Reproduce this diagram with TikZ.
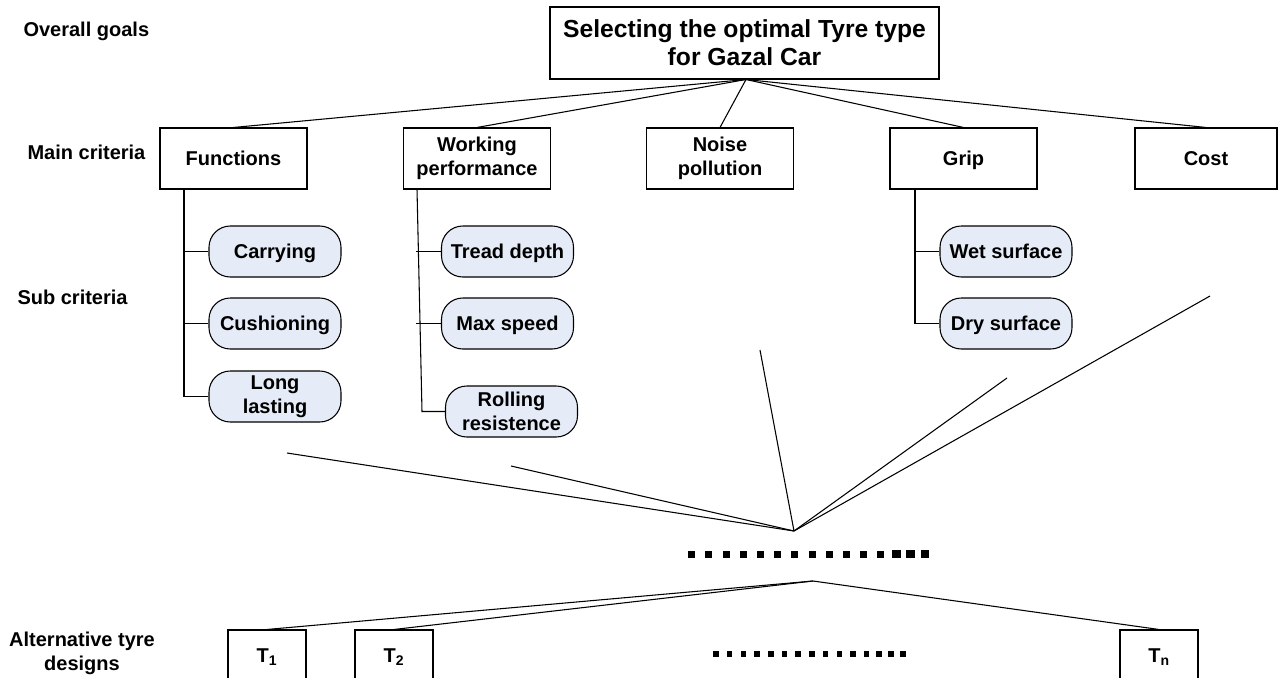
\documentclass[tikz,border=0pt]{standalone}
\usepackage{fontspec}
\setmainfont{Liberation Sans}
\definecolor{pillfill}{HTML}{E6ECF7}
\begin{document}
\begin{tikzpicture}[x=0.75pt,y=-0.75pt,line width=0.8pt,
  txt/.style={font=\bfseries\fontsize{15}{18}\selectfont},
  nodepth/.style={text depth=0pt},
  lbl/.style={txt,inner sep=0pt,anchor=west},
  goalbox/.style={draw,minimum width=291.75pt,minimum height=54pt,align=center,inner sep=0pt,
     font=\bfseries\fontsize{18.5}{21}\selectfont},
  mainbox/.style={draw,txt,minimum width=110.25pt,minimum height=45.75pt,align=center,inner sep=0pt},
  pill/.style={draw,fill=pillfill,txt,rounded corners=16pt,minimum width=99pt,minimum height=38.25pt,align=center,inner sep=0pt},
  tbox/.style={draw,txt,minimum width=58.5pt,minimum height=40.5pt,inner sep=0pt}]
\clip (0,0) rectangle (1279,678);
\fill[white] (0,0) rectangle (1279,678);

% left labels
\node[lbl] (lgoal) at (23,31) {Overall goals};
\node[lbl,nodepth] (lmain) at (27,152) {Main criteria};
\node[lbl] (lsub) at (17,297) {Sub criteria};
\node[txt,align=center,inner sep=0pt] (lalt) at (82,653) {Alternative tyre\\designs};

% goal
\node[goalbox] (goal) at (744.5,43) {Selecting the optimal Tyre type\\for Gazal Car};
\coordinate (g) at (746,79.5);

% main criteria
\node[mainbox,nodepth] (fun) at (233.5,158.5) {Functions};
\node[mainbox] (work) at (477,158.5) {Working\\performance};
\node[mainbox] (noise) at (720,158.5) {Noise\\pollution};
\node[mainbox,nodepth] (grip) at (963.5,158.5) {Grip};
\node[mainbox,nodepth,minimum width=106.5pt] (cost) at (1206,158.5) {Cost};

\foreach \n in {fun,work,noise,grip,cost} \draw (g) -- (\n.north);

% sub criteria
\node[pill,nodepth] (carry) at (275,251.5) {Carrying};
\node[pill,nodepth] (cush) at (275,323.5) {Cushioning};
\node[pill] (long) at (275,396.5) {Long\\lasting};
\node[pill,nodepth] (tread) at (507.5,251.5) {Tread depth};
\node[pill,nodepth] (maxs) at (507.5,323.5) {Max speed};
\node[pill] (roll) at (511.5,411.5) {Rolling\\resistence};
\node[pill,nodepth] (wet) at (1006,251.5) {Wet surface};
\node[pill,nodepth] (dry) at (1006,323.5) {Dry surface};

% functions tree
\coordinate (fs) at (184,189);
\draw (fs) |- (long.west);
\draw (carry.west) -- (carry.west -| fs);
\draw (cush.west) -- (cush.west -| fs);
% working tree
\coordinate (ws) at (417,189);
\coordinate (we) at (422,411.5);
\draw (ws) -- (we) -- (roll.west);
\draw (tread.west) -- ++(-25,0);
\draw (maxs.west) -- ++(-25,0);
% grip tree
\coordinate (gs) at (915,189);
\draw (gs) |- (dry.west);
\draw (wet.west) -- (wet.west -| gs);

% lower fan
\coordinate (m1) at (794,531);
\coordinate (e1) at (287,453);
\coordinate (e2) at (511,466);
\coordinate (e3) at (760,350);
\coordinate (e4) at (1007,378);
\coordinate (e5) at (1210,296);
\foreach \e in {e1,e2,e3,e4,e5} \draw (m1) -- (\e);

% upper dots
\foreach \i in {0,...,11} \fill ({691.7+17.2*\i},554) ++(-3.5,-3.5) rectangle ++(7,7);
\foreach \xx in {896.7,910.3,925} \fill (\xx,554) ++(-4.25,-4.25) rectangle ++(8.5,8.5);

% alternatives
\node[tbox] (t1) at (267,657) {T\textsubscript{1}};
\node[tbox] (t2) at (394,657) {T\textsubscript{2}};
\node[tbox] (tn) at (1159,657) {T\textsubscript{n}};
\coordinate (m2) at (813,581);
\foreach \n in {t1,t2,tn} \draw (m2) -- (\n.north);

% lower dots
\foreach \i in {0,...,11} \fill ({716+13.7*\i},654) ++(-2.75,-2.75) rectangle ++(5.5,5.5);
\foreach \xx in {879,891,903} \fill (\xx,654) ++(-3.25,-3.25) rectangle ++(6.5,6.5);
\end{tikzpicture}
\end{document}
